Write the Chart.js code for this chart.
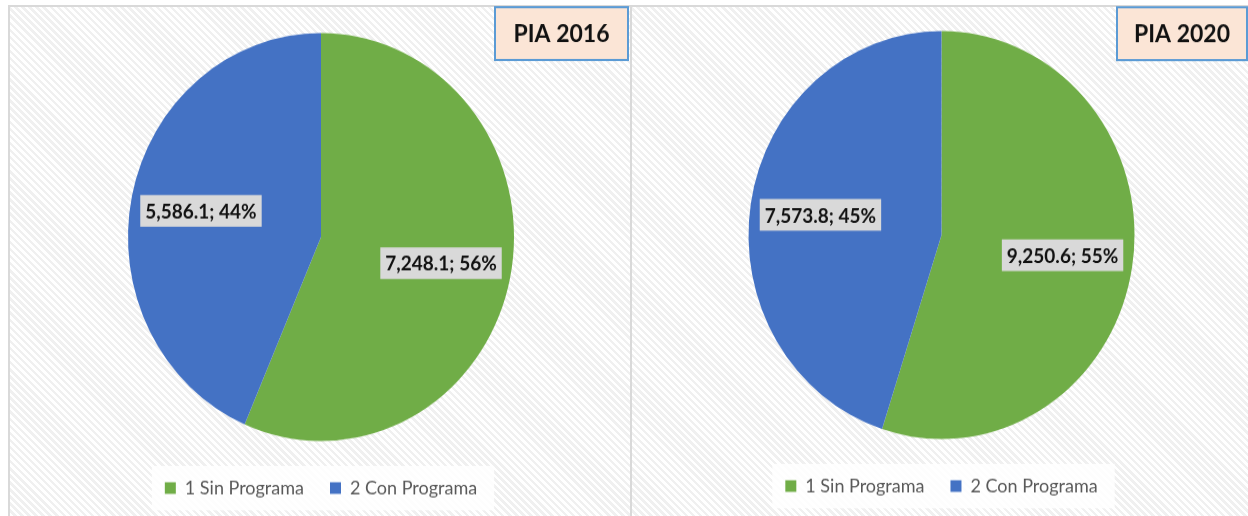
<!DOCTYPE html>
<html><head><meta charset="utf-8">
<script src="https://cdn.jsdelivr.net/npm/chart.js@4.4.1/dist/chart.umd.min.js"></script>
<style>
html,body{margin:0;padding:0;background:#fff;width:1248px;height:516px;overflow:hidden;}
.panel{position:absolute;box-sizing:border-box;background:repeating-linear-gradient(45deg,#ffffff 0px,#ffffff 2.5px,#f0f0f0 2.5px,#f0f0f0 5px);}
#p1{left:8px;top:5px;width:624px;height:511px;border-left:2px solid #d9d9d9;border-top:2px solid #d9d9d9;border-right:2px solid #d9d9d9;}
#p2{left:632px;top:5px;width:616px;height:511px;border-top:2px solid #d9d9d9;}
canvas{position:absolute;transform-origin:0 0;transform:scaleY(1.057);}
#c1{left:8px;top:5px;}
#c2{left:631px;top:3px;}
</style></head>
<body>
<div class="panel" id="p1"></div>
<div class="panel" id="p2"></div>
<canvas id="c1" width="623" height="483"></canvas>
<canvas id="c2" width="617" height="483"></canvas>
<script>
const categories = ['1 Sin Programa', '2 Con Programa'];
const values2016 = [7248.1, 5586.1];
const values2020 = [9250.6, 7573.8];
const titles = ['PIA 2016', 'PIA 2020'];
const sliceColors = ['#70ad47', '#4472c4'];

Chart.defaults.font.family = 'Lato, "Open Sans", sans-serif';

const legendBg = {
  id: 'legendBg',
  beforeDraw(chart) {
    const hb = chart.legend && chart.legend.legendHitBoxes;
    if (!hb || !hb.length) return;
    const ctx = chart.ctx;
    let l = Infinity, r = -Infinity, t = Infinity, b = -Infinity;
    hb.forEach(h => { l = Math.min(l, h.left); r = Math.max(r, h.left + h.width); t = Math.min(t, h.top); b = Math.max(b, h.top + h.height); });
    ctx.save();
    ctx.fillStyle = 'rgba(255,255,255,0.85)';
    ctx.fillRect(l - 13, t - 12, r - l + 30, b - t + 24);
    ctx.restore();
  }
};

const sliceLabels = {
  id: 'sliceLabels',
  afterDatasetsDraw(chart) {
    const ctx = chart.ctx;
    const meta = chart.getDatasetMeta(0);
    const data = chart.data.datasets[0].data;
    const total = data.reduce((a, b) => a + b, 0);
    ctx.save();
    ctx.font = 'bold 19px Lato, "Open Sans", sans-serif';
    ctx.textAlign = 'center';
    ctx.textBaseline = 'middle';
    meta.data.forEach((arc, i) => {
      const p = arc.getProps(['x', 'y', 'startAngle', 'endAngle', 'outerRadius'], true);
      const mid = (p.startAngle + p.endAngle) / 2;
      const rr = p.outerRadius * 0.635;
      const cx = p.x + Math.cos(mid) * rr;
      const cy = p.y + Math.sin(mid) * rr;
      const txt = data[i].toLocaleString('en-US', {minimumFractionDigits: 1, maximumFractionDigits: 1}) + '; ' + Math.round(data[i] / total * 100) + '%';
      const w = ctx.measureText(txt).width + 10;
      const h = 30;
      ctx.fillStyle = '#d9d9d9';
      ctx.fillRect(cx - w / 2, cy - h / 2, w, h);
      ctx.fillStyle = '#111111';
      ctx.fillText(txt, cx, cy + 1);
    });
    ctx.restore();
  }
};

const titleBox = {
  id: 'titleBox',
  afterDraw(chart, args, opts) {
    const ctx = chart.ctx;
    ctx.save();
    ctx.fillStyle = '#fbe5d6';
    ctx.fillRect(opts.x, opts.y, opts.w, opts.h);
    ctx.strokeStyle = '#5b9bd5';
    ctx.lineWidth = 2;
    ctx.strokeRect(opts.x, opts.y, opts.w, opts.h);
    ctx.fillStyle = '#111111';
    ctx.font = 'bold 23px Lato, "Open Sans", sans-serif';
    ctx.textAlign = 'center';
    ctx.textBaseline = 'middle';
    ctx.fillText(opts.text, opts.x + opts.w / 2, opts.y + opts.h / 2 + 1);
    ctx.restore();
  }
};

function makeChart(id, values, title, box, padLeft) {
  return new Chart(document.getElementById(id), {
    type: 'pie',
    data: {
      labels: categories,
      datasets: [{ data: values, backgroundColor: sliceColors, borderWidth: 0 }]
    },
    options: {
      responsive: false,
      animation: false,
      radius: 193,
      layout: { padding: { left: padLeft, right: 0, top: 17, bottom: 7 } },
      plugins: {
        tooltip: { enabled: false },
        legend: {
          position: 'bottom',
          labels: { boxWidth: 11, boxHeight: 11, padding: 26, color: '#595959', font: { size: 18 } }
        },
        titleBox: Object.assign({ text: title }, box)
      }
    },
    plugins: [legendBg, sliceLabels, titleBox]
  });
}

makeChart('c1', values2016, titles[0], { x: 487, y: 2, w: 133, h: 50 }, 3);
makeChart('c2', values2020, titles[1], { x: 486, y: 4, w: 130, h: 50 }, 4);
</script>
</body></html>
